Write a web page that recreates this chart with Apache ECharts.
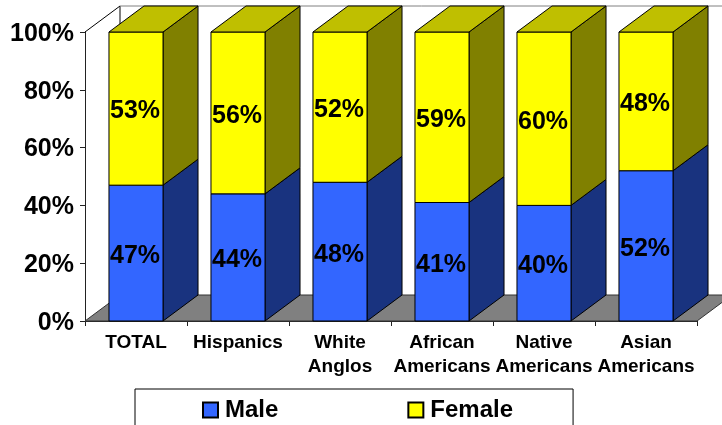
<!DOCTYPE html>
<html>
<head>
<meta charset="utf-8">
<style>
  html, body { margin: 0; padding: 0; background: #fff; overflow: hidden; }
  #main { width: 722px; height: 425px; }
</style>
<script src="https://cdn.jsdelivr.net/npm/echarts@6/dist/echarts.min.js"></script>
</head>
<body>
<div id="main"></div>
<script>
var categories = ['TOTAL', 'Hispanics', 'White\nAnglos', 'African\nAmericans', 'Native\nAmericans', 'Asian\nAmericans']
var male = [47, 44, 48, 41, 40, 52]
var female = [53, 56, 52, 59, 60, 48]
var yTicks = [0, 20, 40, 60, 80, 100]

var fontName = '"Liberation Sans", Arial, sans-serif'
// 3d look: how far the back of the box is shifted
var depthX = 35
var depthY = 26
var barRatio = 0.53

function poly(points, fill, stroke) {
  return {
    type: 'polygon',
    shape: { points: points },
    style: { fill: fill, stroke: stroke || '#000', lineWidth: 1 }
  }
}

// floor and back wall
function renderFrame(params, api) {
  var bottomLeft = api.coord([0, 0])
  var topLeft = api.coord([0, 100])
  var band = api.size([1, 0])[0]
  var x0 = bottomLeft[0] - band / 2
  var x1 = x0 + band * categories.length
  var y0 = bottomLeft[1]
  var y1 = topLeft[1]
  var line = function (a, b, color) {
    return {
      type: 'line',
      shape: { x1: a[0], y1: a[1], x2: b[0], y2: b[1] },
      style: { stroke: color, lineWidth: 1 }
    }
  }
  return {
    type: 'group',
    children: [
      poly([[x0, y0], [x0 + depthX, y0 - depthY], [x1 + depthX, y0 - depthY], [x1, y0]], '#808080', '#333'),
      line([x0, y1], [x0 + depthX, y1 - depthY], '#000'),
      line([x0 + depthX, y1 - depthY], [x0 + depthX, y0 - depthY], '#000'),
      line([x0 + depthX, y1 - depthY], [x1 + depthX, y1 - depthY], '#808080')
    ]
  }
}

function barRenderer(front, side, top) {
  return function (params, api) {
    var cat = api.value(0)
    var low = api.coord([cat, api.value(1)])
    var high = api.coord([cat, api.value(2)])
    var half = api.size([1, 0])[0] * barRatio / 2
    var l = low[0] - half
    var r = low[0] + half
    var children = [
      poly([[r, low[1]], [r + depthX, low[1] - depthY], [r + depthX, high[1] - depthY], [r, high[1]]], side),
      poly([[l, low[1]], [r, low[1]], [r, high[1]], [l, high[1]]], front)
    ]
    if (top) {
      children.push(poly([[l, high[1]], [l + depthX, high[1] - depthY], [r + depthX, high[1] - depthY], [r, high[1]]], top))
    }
    children.push({
      type: 'text',
      z2: 10,
      style: {
        text: (api.value(2) - api.value(1)) + '%',
        x: low[0] - 1,
        y: (low[1] + high[1]) / 2 + 3,
        align: 'center',
        verticalAlign: 'middle',
        fill: '#000',
        font: 'bold 25px ' + fontName
      }
    })
    return { type: 'group', children: children }
  }
}

var chart = echarts.init(document.getElementById('main'), null, { renderer: 'canvas' })

var option = {
  animation: false,
  backgroundColor: '#fff',
  textStyle: { fontFamily: fontName },
  grid: { left: 85, right: 25, top: 32, bottom: 104 },
  legend: {
    data: ['Male', 'Female'],
    left: 135,
    top: 389,
    orient: 'horizontal',
    padding: [9, 60, 30, 67],
    itemGap: 129,
    itemWidth: 15,
    itemHeight: 15,
    icon: 'rect',
    borderColor: '#000',
    borderWidth: 1,
    selectedMode: false,
    textStyle: { color: '#000', fontSize: 24, fontWeight: 'bold', fontFamily: fontName, padding: [0, 0, 0, 2] }
  },
  xAxis: {
    type: 'category',
    data: categories,
    axisLine: { lineStyle: { color: '#222', width: 1 } },
    axisTick: { show: true, length: 5, lineStyle: { color: '#222' } },
    axisLabel: {
      interval: 0,
      hideOverlap: false,
      color: '#000',
      fontSize: 19,
      fontWeight: 'bold',
      fontFamily: fontName,
      lineHeight: 24,
      margin: 10
    }
  },
  yAxis: {
    type: 'value',
    min: yTicks[0],
    max: yTicks[yTicks.length - 1],
    interval: 20,
    splitLine: { show: false },
    axisLine: { show: true, lineStyle: { color: '#222', width: 1 } },
    axisTick: { show: true, length: 5, lineStyle: { color: '#222' } },
    axisLabel: {
      color: '#000',
      fontSize: 25,
      fontWeight: 'bold',
      fontFamily: fontName,
      margin: 11,
      verticalAlign: 'top',
      lineHeight: 4,
      formatter: '{value}%'
    }
  },
  series: [
    {
      name: 'frame',
      type: 'custom',
      renderItem: renderFrame,
      silent: true,
      z: 1,
      data: [[0, 0]]
    },
    {
      name: 'Male',
      type: 'custom',
      renderItem: barRenderer('#3366FF', '#19337F'),
      itemStyle: { color: '#3366FF', borderColor: '#000', borderWidth: 1 },
      encode: { x: 0, y: 2 },
      z: 2,
      data: male.map(function (v, i) { return [i, 0, v] })
    },
    {
      name: 'Female',
      type: 'custom',
      renderItem: barRenderer('#FFFF00', '#808000', '#BFBF00'),
      itemStyle: { color: '#FFFF00', borderColor: '#000', borderWidth: 1 },
      encode: { x: 0, y: 2 },
      z: 3,
      data: female.map(function (v, i) { return [i, male[i], male[i] + v] })
    }
  ]
}

chart.setOption(option)
</script>
</body>
</html>
